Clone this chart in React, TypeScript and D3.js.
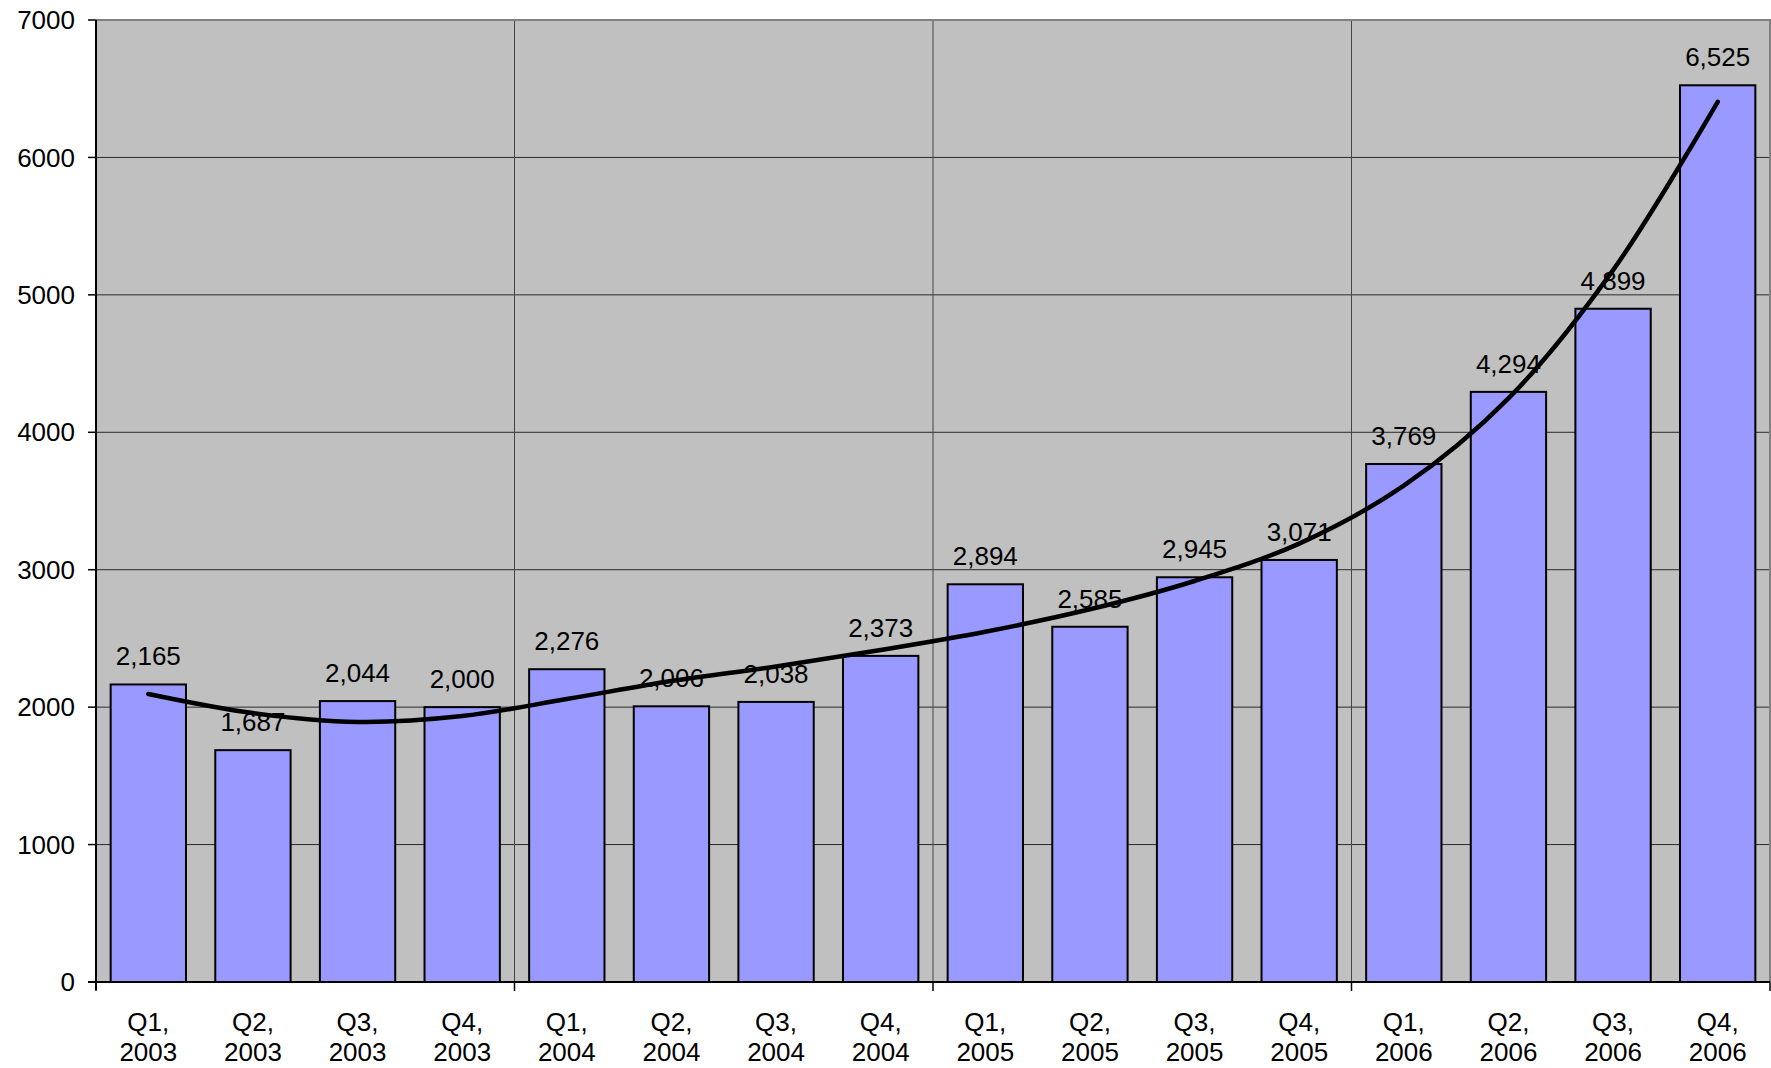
import { useEffect, useRef } from 'react';
import * as d3 from 'd3';

const quarters = ['Q1,', 'Q2,', 'Q3,', 'Q4,'];
const years = ['2003', '2004', '2005', '2006'];
const values = [2165, 1687, 2044, 2000, 2276, 2006, 2038, 2373, 2894, 2585, 2945, 3071, 3769, 4294, 4899, 6525];
// trendline, one point per quarter
const trend = [2096, 1957, 1892, 1935, 2059, 2190, 2296, 2416, 2549, 2712, 2918, 3190, 3612, 4247, 5180, 6405];
const yTicks = [0, 1000, 2000, 3000, 4000, 5000, 6000, 7000];

function Chart() {
    const ref = useRef<SVGSVGElement | null>(null);

    useEffect(() => {
        const left = 96;
        const right = 1770;
        const top = 20;
        const bottom = 982;
        const font = 'Liberation Sans, Arial, sans-serif';

        const svg = d3.select(ref.current);
        svg.selectAll('*').remove();

        const cats = years.flatMap((y) => quarters.map((q) => `${q} ${y}`));

        const x = d3.scaleBand<string>()
            .domain(cats)
            .range([left, right])
            .paddingInner(0.28)
            .paddingOuter(0.14);

        const y = d3.scaleLinear().domain([0, 7000]).range([bottom, top]);
        const cx = (i: number) => x(cats[i])! + x.bandwidth() / 2;

        // plot background
        svg.append('rect')
            .attr('x', left)
            .attr('y', top)
            .attr('width', right - left)
            .attr('height', bottom - top)
            .attr('fill', '#c0c0c0');

        // gridlines
        svg.append('g')
            .selectAll('line')
            .data(yTicks.slice(1, -1))
            .enter()
            .append('line')
            .attr('x1', left)
            .attr('x2', right)
            .attr('y1', (d) => y(d))
            .attr('y2', (d) => y(d))
            .attr('stroke', '#2a2a2a')
            .attr('stroke-width', 1);

        const step = x.step();
        const bounds = d3.range(0, cats.length + 1, 4).map((i) => left + i * step);

        svg.append('g')
            .selectAll('line')
            .data(bounds.slice(1, -1))
            .enter()
            .append('line')
            .attr('x1', (d) => d)
            .attr('x2', (d) => d)
            .attr('y1', top)
            .attr('y2', bottom)
            .attr('stroke', '#444')
            .attr('stroke-width', 1);

        // plot frame (top / right in gray)
        svg.append('path')
            .attr('d', `M${left},${top}H${right}V${bottom}`)
            .attr('fill', 'none')
            .attr('stroke', '#808080')
            .attr('stroke-width', 2);

        // bars
        svg.append('g')
            .selectAll('rect')
            .data(values)
            .enter()
            .append('rect')
            .attr('x', (_, i) => x(cats[i])!)
            .attr('y', (d) => y(d))
            .attr('width', x.bandwidth())
            .attr('height', (d) => bottom - y(d))
            .attr('fill', '#9999ff')
            .attr('stroke', '#000')
            .attr('stroke-width', 2);

        // value labels
        svg.append('g')
            .selectAll('text')
            .data(values)
            .enter()
            .append('text')
            .attr('x', (_, i) => cx(i))
            .attr('y', (d) => y(d) - 19)
            .attr('text-anchor', 'middle')
            .attr('font-family', font)
            .attr('font-size', '26px')
            .attr('fill', '#000')
            .text((d) => d3.format(',')(d));

        // trendline
        const line = d3.line<number>()
            .x((_, i) => cx(i))
            .y((d) => y(d))
            .curve(d3.curveCatmullRom.alpha(0.5));

        svg.append('path')
            .datum(trend)
            .attr('d', line)
            .attr('fill', 'none')
            .attr('stroke', '#000')
            .attr('stroke-width', 4.5)
            .attr('stroke-linecap', 'round');

        // axes
        svg.append('line')
            .attr('x1', left)
            .attr('x2', left)
            .attr('y1', top)
            .attr('y2', bottom + 8)
            .attr('stroke', '#000')
            .attr('stroke-width', 2);

        svg.append('line')
            .attr('x1', left - 8)
            .attr('x2', right)
            .attr('y1', bottom)
            .attr('y2', bottom)
            .attr('stroke', '#000')
            .attr('stroke-width', 2);

        const yAxis = svg.append('g');
        yAxis.selectAll('line')
            .data(yTicks)
            .enter()
            .append('line')
            .attr('x1', left - 8)
            .attr('x2', left)
            .attr('y1', (d) => y(d))
            .attr('y2', (d) => y(d))
            .attr('stroke', '#000')
            .attr('stroke-width', 1.5);
        yAxis.selectAll('text')
            .data(yTicks)
            .enter()
            .append('text')
            .attr('x', 75)
            .attr('y', (d) => y(d))
            .attr('dy', '0.35em')
            .attr('text-anchor', 'end')
            .attr('font-family', font)
            .attr('font-size', '26px')
            .text((d) => String(d));

        svg.append('g')
            .selectAll('line')
            .data(bounds)
            .enter()
            .append('line')
            .attr('x1', (d) => d)
            .attr('x2', (d) => d)
            .attr('y1', bottom)
            .attr('y2', bottom + 9)
            .attr('stroke', '#000')
            .attr('stroke-width', 1.5);

        const xl = svg.append('g')
            .selectAll('text')
            .data(cats)
            .enter()
            .append('text')
            .attr('text-anchor', 'middle')
            .attr('font-family', font)
            .attr('font-size', '26px');
        xl.append('tspan')
            .attr('x', (d) => x(d)! + x.bandwidth() / 2)
            .attr('y', 1031)
            .text((d) => d.split(' ')[0]);
        xl.append('tspan')
            .attr('x', (d) => x(d)! + x.bandwidth() / 2)
            .attr('y', 1061)
            .text((d) => d.split(' ')[1]);
    }, []);

    return (
        <svg
            ref={ref}
            width={1771}
            height={1068}
            style={{ position: 'absolute', left: 0, top: 0, background: '#fff' }}
        />
    );
}

export default function App() {
    return <Chart />;
}
